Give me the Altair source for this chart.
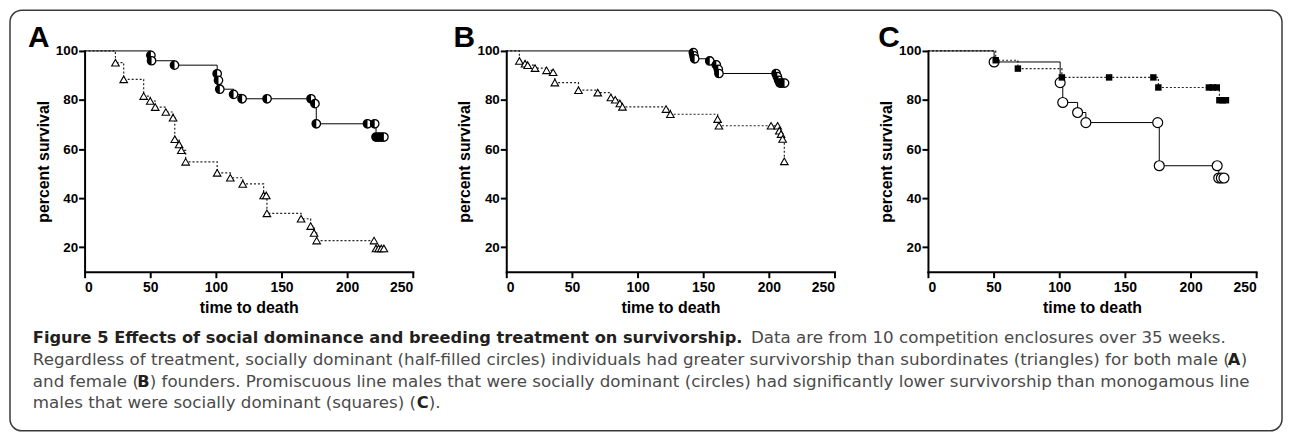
import altair as alt
import pandas as pd

# ---------------- data ----------------
# Panel A: males. Dominant = half-filled circles (solid), subordinate = triangles (dotted)
A_dom_t = [0, 50.5, 51, 68.5, 101, 102, 103, 113.5, 120, 139, 172.5, 175.5, 176.5, 215.5, 221, 222, 224, 226, 228]
A_dom_s = [100, 98.2, 96, 94.2, 90.7, 88, 84.4, 82.3, 80.5, 80.5, 80.5, 78.5, 70.3, 70.3, 70.3, 64.9, 64.9, 64.9, 64.9]
A_sub_t = [0, 23.5, 29.8, 45, 50, 53.8, 61.9, 67.4, 68.7, 72, 73.7, 77, 101, 111, 120.5, 136.4, 138.4, 138.9,
           164.9, 172.2, 174.8, 176.8, 220.5, 222, 224, 226, 228]
A_sub_s = [100, 95.2, 88.4, 81.6, 79.6, 77.1, 75.1, 72.8, 64.0, 61.9, 59.5, 54.8, 50.3, 48.3, 45.8, 41.1, 41.1, 33.8,
           31.6, 28.6, 25.8, 22.7, 22.7, 19.5, 19.5, 19.5, 19.5]

# Panel B: females
B_dom_t = [0, 142.5, 143, 143.5, 155, 160, 161.5, 162, 205.5, 206.5, 207.5, 208.5, 210, 212]
B_dom_s = [100, 99.3, 98, 96.8, 95.9, 94.3, 92.5, 90.8, 90.8, 89.5, 88, 86.9, 86.9, 86.9]
B_sub_t = [0, 10, 14.3, 16.3, 21.9, 30.7, 35.7, 37, 55, 69.7, 79.7, 83, 86.5, 88.5, 121.7, 125, 161, 162,
           201.7, 206.7, 208, 209.3, 210.5, 211.8]
B_sub_s = [100, 95.9, 94.8, 94.2, 93, 92.1, 91.3, 87.1, 84, 83, 81, 80.1, 78.6, 77.2, 76.3, 74.2, 72.2, 69.5,
           69.5, 69.5, 67.5, 66.1, 64.1, 55]

# Panel C: promiscuous dominant (open circles, solid) vs monogamous dominant (squares, dotted)
C_pro_t = [0, 50.4, 100.7, 102.7, 114, 120.3, 175, 176.2, 220.3, 221.5, 223.5, 225.5]
C_pro_s = [100, 95.5, 87.1, 79, 74.9, 70.8, 70.8, 53.2, 53.2, 48.2, 48.2, 48.2]
C_mono_t = [0, 51.6, 68.5, 102, 138, 171.7, 175.5, 214, 217, 220, 222, 224.5, 227]
C_mono_s = [100, 96.2, 92.8, 89.2, 89.2, 89.2, 85.1, 85.1, 85.1, 85.1, 79.9, 79.9, 79.9]

x_ticks = [0, 50, 100, 150, 200, 250]
y_ticks = [20, 40, 60, 80, 100]
panel_letters = ["A", "B", "C"]

caption_bold = ["Figure 5 Effects of social dominance and breeding treatment on survivorship.", "A", "B", "C"]
caption_bold_x = [33, 1234.5, 138, 419]
caption_bold_line = [0, 1, 2, 3]
caption_reg = ["Data are from 10 competition enclosures over 35 weeks.",
               "Regardless of treatment, socially dominant (half-filled circles) individuals had greater survivorship than subordinates (triangles) for both male (",
               ")",
               "and female (",
               ") founders. Promiscuous line males that were socially dominant (circles) had significantly lower survivorship than monogamous line",
               "males that were socially dominant (squares) (",
               ")."]
caption_reg_x = [755, 33, 1247.5, 33, 150.5, 33, 431]
caption_reg_line = [0, 1, 1, 2, 2, 3, 3]

# ---------------- layout constants ----------------
W, H = 330, 222
ORIGIN_X, ORIGIN_Y = 85, 50       # page position of panel A plot origin
VSPACE = 20
CAP_Y0 = ORIGIN_Y + H + VSPACE     # page y of caption view
LINE_BASE = [343.5, 365.5, 387.5, 409.5]
AXFONT = "Liberation Sans, Arial, Helvetica, sans-serif"
CAPFONT = "DejaVu Sans, Open Sans, sans-serif"


def series(t, s):
    return pd.DataFrame({"t": t, "s": s, "i": list(range(len(t)))})


X = alt.X("t:Q", scale=alt.Scale(domain=[0, 250], nice=False),
          axis=alt.Axis(values=x_ticks, title="time to death", labelPadding=3, titlePadding=5))
Y = alt.Y("s:Q", scale=alt.Scale(domain=[10, 100], nice=False, zero=False),
          axis=alt.Axis(values=y_ticks, title="percent survival", labelPadding=1, titlePadding=4))


def step_line(df, dotted):
    props = dict(interpolate="step-after", color="black", strokeWidth=1)
    if dotted:
        props.update(strokeDash=[2, 2], strokeWidth=1.2, color="#222")
    return alt.Chart(df).mark_line(**props).encode(x=X, y=Y, order="i:Q")


def pts(df):
    return df[df["i"] > 0]


def half_circles(df):
    d = pts(df)
    base = alt.Chart(d).mark_point(shape="circle", filled=True, fill="white", stroke="black",
                                   strokeWidth=1.3, size=72, opacity=1).encode(x=X, y=Y)
    half = alt.Chart(d).mark_point(shape="M 0 -1 A 1 1 0 0 0 0 1 Z", filled=True, fill="black",
                                   strokeWidth=0, size=72, opacity=1).encode(x=X, y=Y)
    return [base, half]


def triangles(df):
    return [alt.Chart(pts(df)).mark_point(shape="triangle-up", filled=True, fill="white", stroke="black",
                                          strokeWidth=1.1, size=58, opacity=1).encode(x=X, y=Y)]


def open_circles(df):
    return [alt.Chart(pts(df)).mark_point(shape="circle", filled=True, fill="white", stroke="black",
                                          strokeWidth=1.2, size=100, opacity=1).encode(x=X, y=Y)]


def squares(df):
    return [alt.Chart(pts(df)).mark_point(shape="square", filled=True, fill="black",
                                          size=42, opacity=1).encode(x=X, y=Y)]


def letter(ch, dx):
    return alt.Chart(pd.DataFrame({"label": [ch]})).mark_text(
        font=AXFONT, fontWeight="bold", fontSize=30, align="left", baseline="alphabetic", color="black"
    ).encode(text="label:N", x=alt.value(dx), y=alt.value(-4))


dA, sA = series(A_dom_t, A_dom_s), series(A_sub_t, A_sub_s)
dB, sB = series(B_dom_t, B_dom_s), series(B_sub_t, B_sub_s)
pC, mC = series(C_pro_t, C_pro_s), series(C_mono_t, C_mono_s)

panelA = alt.layer(step_line(sA, True), step_line(dA, False), *triangles(sA), *half_circles(dA),
                   letter(panel_letters[0], -57)).properties(width=W, height=H)
panelB = alt.layer(step_line(sB, True), step_line(dB, False), *triangles(sB), *half_circles(dB),
                   letter(panel_letters[1], -53)).properties(width=W, height=H)
panelC = alt.layer(step_line(mC, True), step_line(pC, False), *open_circles(pC), *squares(mC),
                   letter(panel_letters[2], -50)).properties(width=W, height=H)

# caption
cb = pd.DataFrame({"text": caption_bold,
                   "x": [v - ORIGIN_X for v in caption_bold_x],
                   "y": [LINE_BASE[k] - CAP_Y0 for k in caption_bold_line]})
cr = pd.DataFrame({"text": caption_reg,
                   "x": [v - ORIGIN_X for v in caption_reg_x],
                   "y": [LINE_BASE[k] - CAP_Y0 for k in caption_reg_line]})

cap_bold = alt.Chart(cb).mark_text(font=CAPFONT, fontWeight="bold", fontSize=16.3, align="left",
                                   baseline="alphabetic", color="#231f20").encode(
    x=alt.X("x:Q", scale=None), y=alt.Y("y:Q", scale=None), text="text:N")
cap_reg = alt.Chart(cr).mark_text(font=CAPFONT, fontSize=16.8, align="left",
                                  baseline="alphabetic", color="#4a4a4a").encode(
    x=alt.X("x:Q", scale=None), y=alt.Y("y:Q", scale=None), text="text:N")

border = alt.Chart(pd.DataFrame({"k": [0]})).mark_rect(
    filled=False, stroke="#3a3a3a", strokeWidth=1.5, cornerRadius=12
).encode(x=alt.value(10 - ORIGIN_X), x2=alt.value(1289 - ORIGIN_X),
         y=alt.value(9 - CAP_Y0), y2=alt.value(432 - CAP_Y0))

caption = alt.layer(border, cap_bold, cap_reg).properties(width=W, height=100)

chart = alt.concat(panelA, panelB, panelC, caption, columns=3,
                   spacing={"row": VSPACE, "column": 94}, bounds="flush").properties(
    padding={"left": 1, "top": 0, "right": 1, "bottom": 0}
).configure_view(stroke=None).configure_axis(
    grid=False, domainColor="black", domainWidth=2, tickColor="black", tickWidth=2, tickSize=6,
    labelFont=AXFONT, labelFontWeight="bold", labelFontSize=14, labelColor="black",
    titleFont=AXFONT, titleFontWeight="bold", titleFontSize=16, titleColor="black",
    domainCap="square"
).configure_axisY(labelFontSize=13.5)

chart.save("out.html", embed_options={"renderer": "svg", "actions": False})
